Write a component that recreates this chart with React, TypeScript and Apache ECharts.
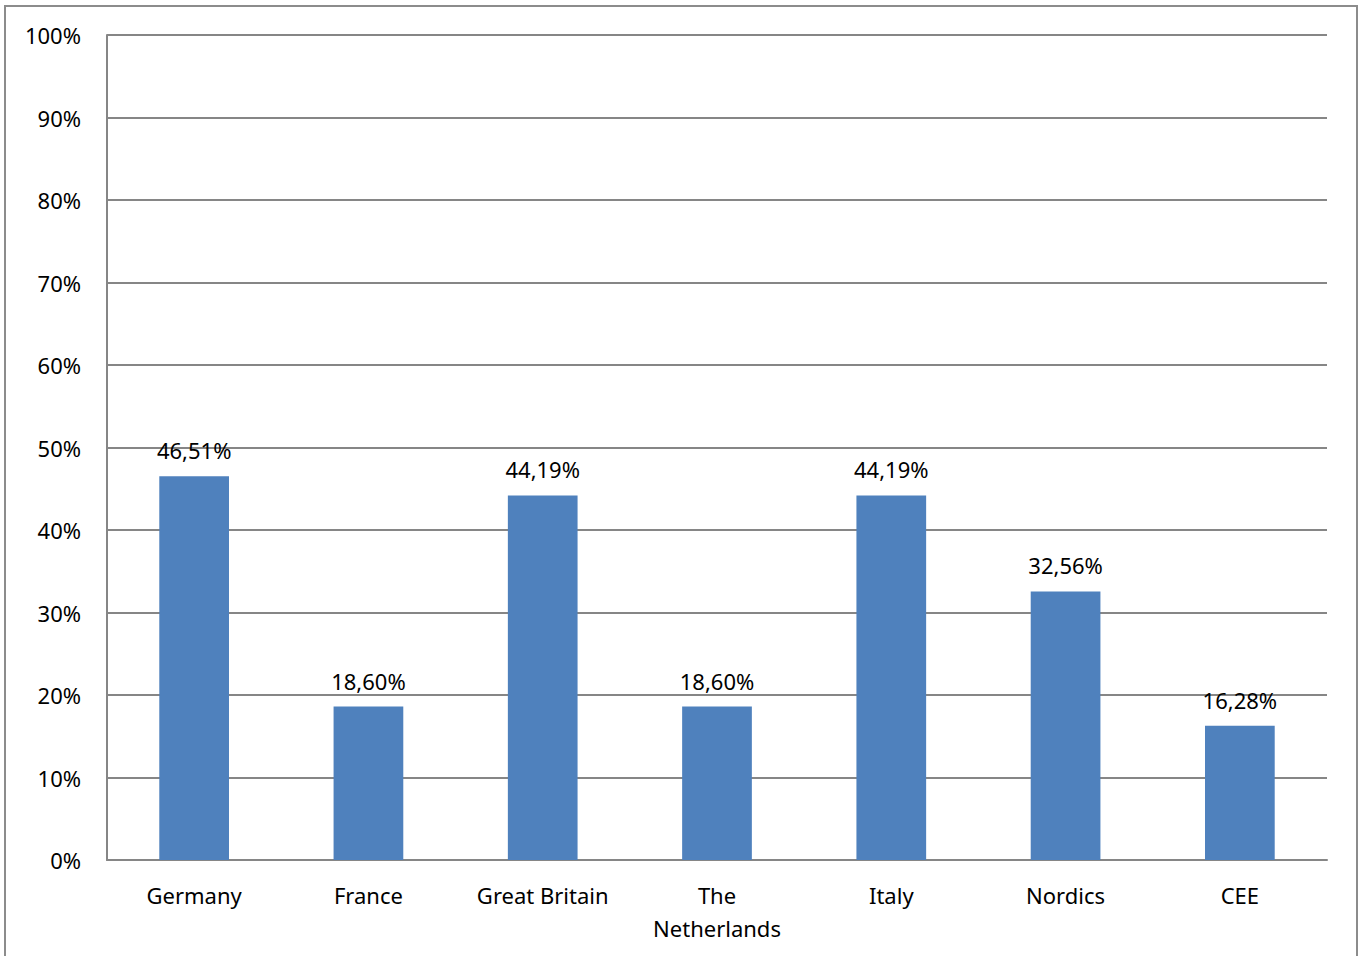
import React, { useEffect, useRef } from "react";
import * as echarts from "echarts";

const categories = ["Germany", "France", "Great Britain", "The\nNetherlands", "Italy", "Nordics", "CEE"];
const values = [46.51, 18.6, 44.19, 18.6, 44.19, 32.56, 16.28];

export default function App() {
  const ref = useRef<HTMLDivElement>(null);
  useEffect(() => {
    const chart = echarts.init(ref.current!, null, { renderer: "svg" });
    const font = "Noto Sans";
    chart.setOption({
      animation: false,
      backgroundColor: "#ffffff",
      textStyle: { fontFamily: font },
      graphic: [
        {
          type: "rect",
          shape: { x: 5, y: 6, width: 1352, height: 1000 },
          style: { fill: "none", stroke: "#8c8c8c", lineWidth: 2 },
          silent: true,
        },
      ],
      grid: { left: 107, right: 32, top: 35, bottom: 96 },
      xAxis: {
        type: "category",
        data: categories,
        axisLine: { show: true, lineStyle: { color: "#868686", width: 2 } },
        axisTick: { show: false },
        axisLabel: {
          color: "#000",
          fontSize: 22,
          fontFamily: font,
          margin: 18,
          lineHeight: 33,
          interval: 0,
        },
      },
      yAxis: {
        type: "value",
        min: 0,
        max: 100,
        interval: 10,
        axisLine: { show: true, lineStyle: { color: "#868686", width: 2 } },
        axisTick: { show: false },
        splitLine: { lineStyle: { color: "#868686", width: 2 } },
        axisLabel: {
          color: "#000",
          fontSize: 22,
          fontFamily: font,
          margin: 26,
          formatter: (v: number) => v + "%",
        },
      },
      series: [
        {
          type: "bar",
          data: values,
          barWidth: "40%",
          itemStyle: { color: "#4f81bd" },
          label: {
            show: true,
            position: "top",
            distance: 15,
            color: "#000",
            fontSize: 22,
            fontFamily: font,
            formatter: (p: any) => p.value.toFixed(2).replace(".", ",") + "%",
          },
        },
      ],
    });
    return () => chart.dispose();
  }, []);
  return (
    <div
      ref={ref}
      style={{ position: "absolute", left: 0, top: 0, width: 1359, height: 956 }}
    />
  );
}
